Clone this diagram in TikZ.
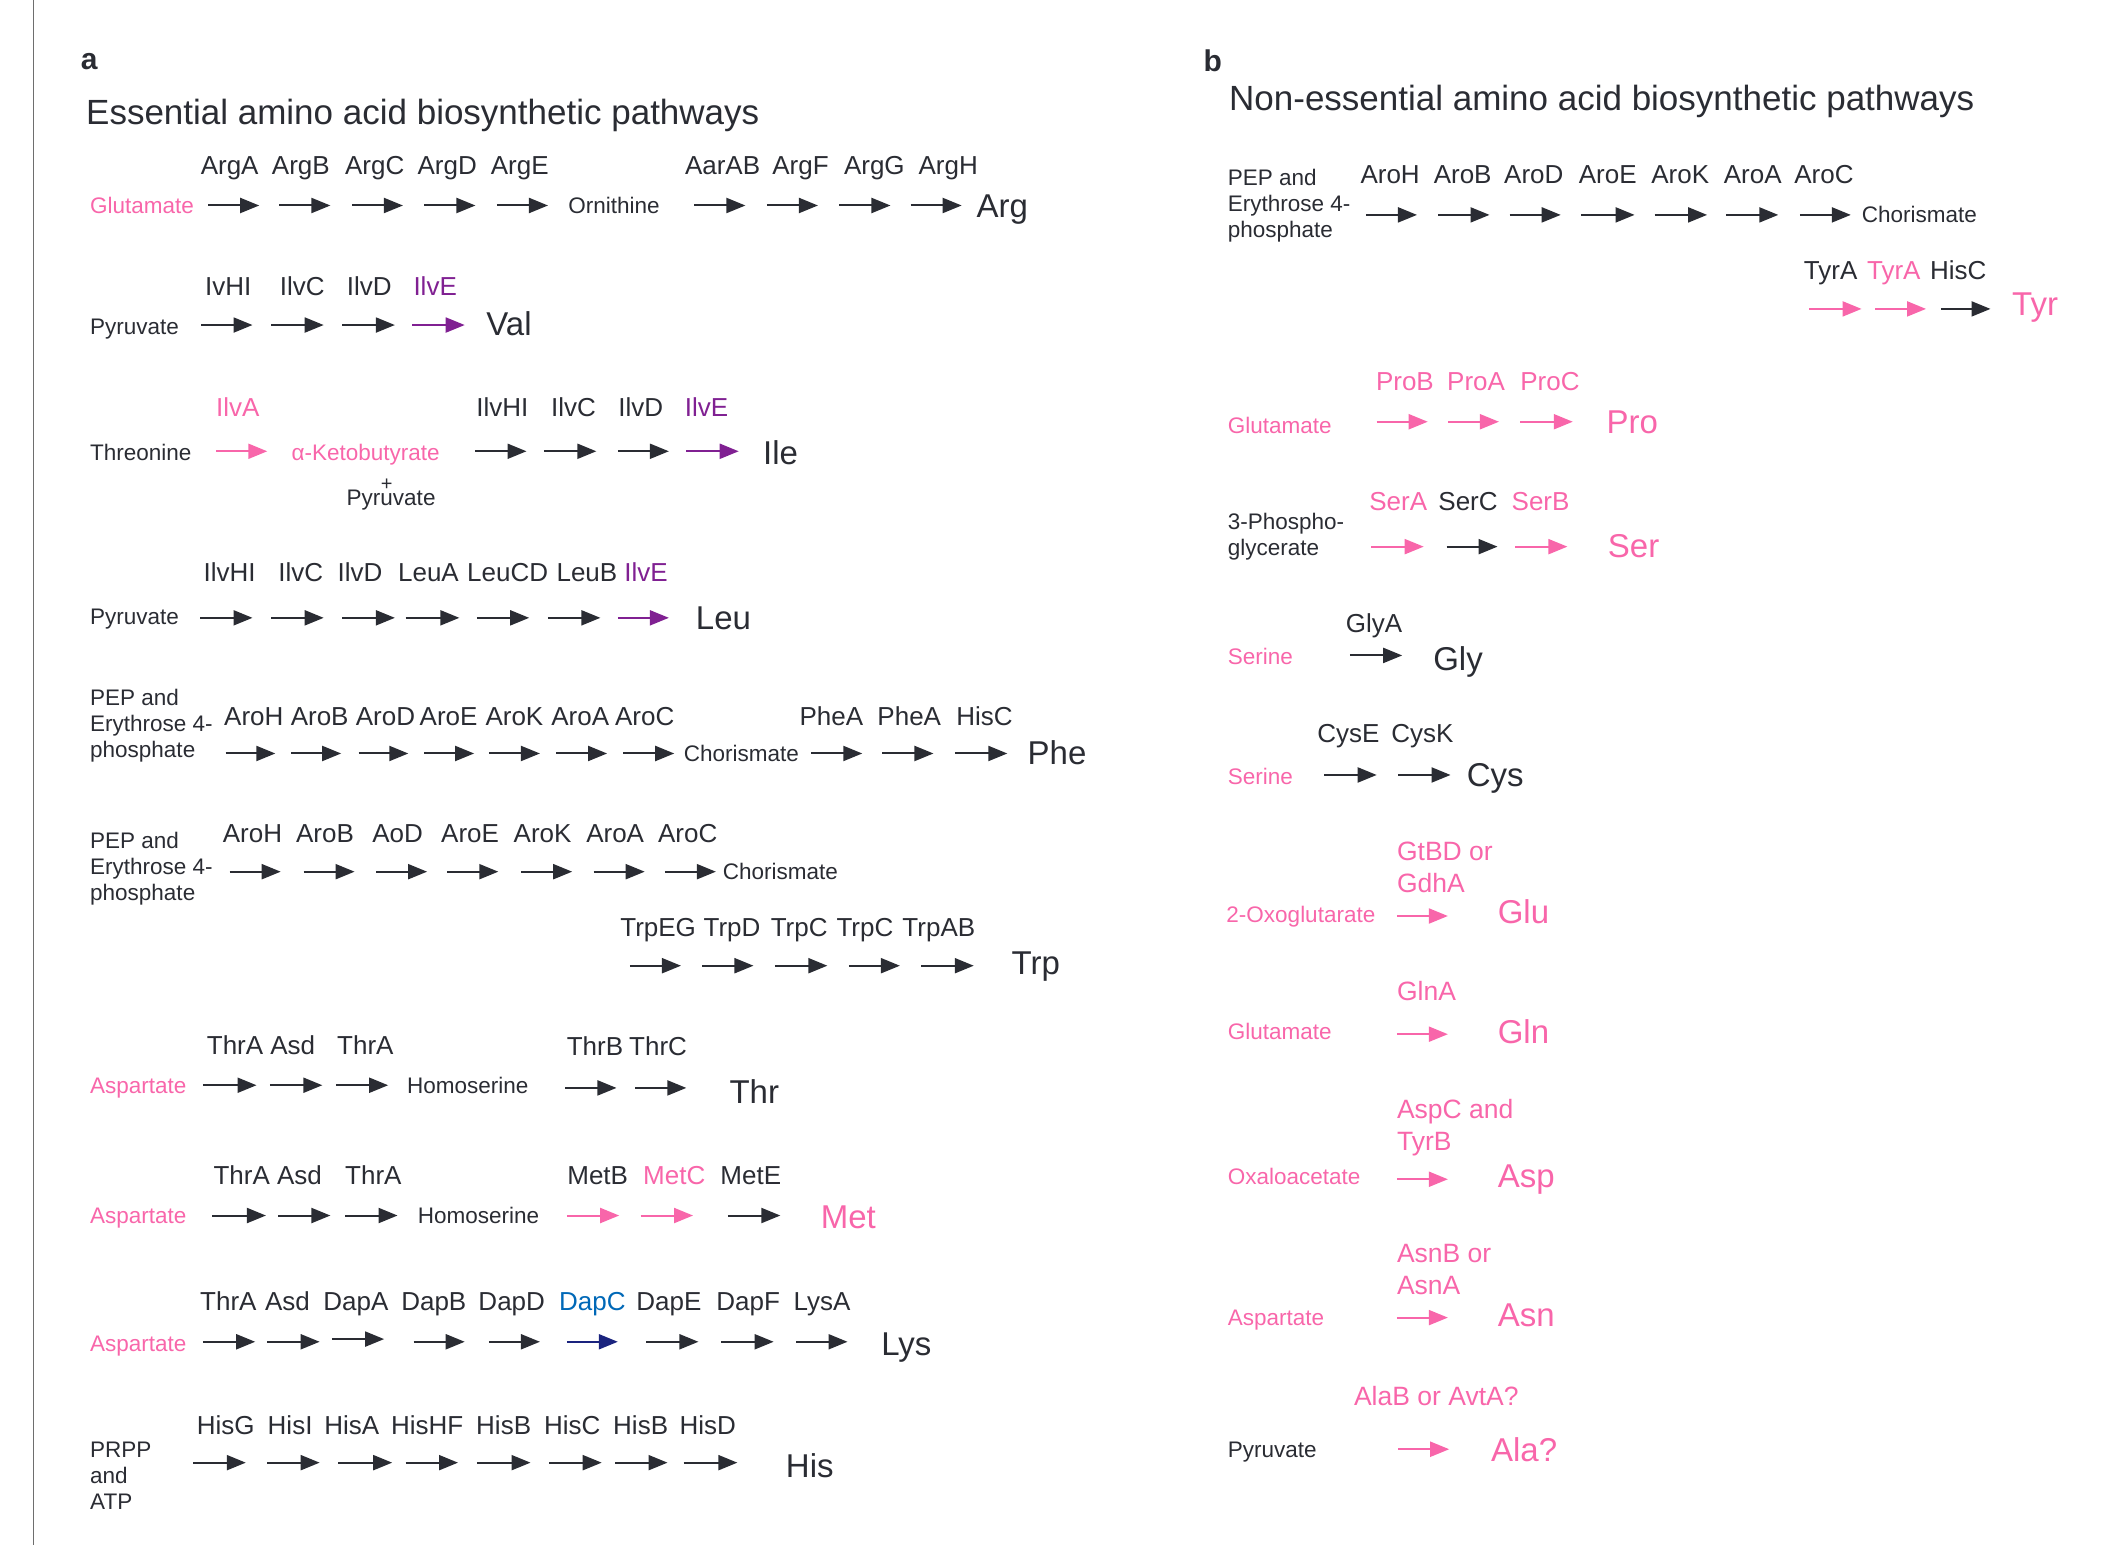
\documentclass[tikz,border=0pt]{standalone}
\usepackage{fontspec}
\setmainfont{Liberation Sans}
\usetikzlibrary{arrows.meta}
\definecolor{dk}{RGB}{42,44,51}
\definecolor{pk}{RGB}{248,102,170}
\definecolor{pu}{RGB}{128,32,146}
\definecolor{bl}{RGB}{0,104,183}
\definecolor{nv}{RGB}{26,35,126}
\definecolor{gr}{RGB}{110,110,110}
\tikzset{
  every node/.style={text=dk},
  txt/.style={inner sep=0pt, text depth=0pt},
  enz/.style={txt, text height=18.7pt, font=\fontsize{26}{30}\selectfont, anchor=center},
  enzb/.style={txt, text height=19.1pt, font=\fontsize{26.5}{32}\selectfont, anchor=west},
  met/.style={txt, text height=16.2pt, font=\fontsize{22.5}{26}\selectfont, anchor=west},
  prod/.style={txt, text height=23.8pt, font=\fontsize{33}{38}\selectfont, anchor=west},
  multi/.style={inner sep=0pt, align=left, anchor=west, font=\fontsize{22.5}{26}\selectfont},
  multienz/.style={inner sep=0pt, align=left, anchor=west, font=\fontsize{26.5}{32}\selectfont},
  ttl/.style={txt, text height=25.2pt, font=\fontsize{35}{40}\selectfont, anchor=west},
  lbl/.style={txt, text height=21.6pt, font=\fontsize{30}{34}\selectfont\bfseries, anchor=west},
  arr/.style={-{Triangle[length=19pt,width=15pt]}, line width=2pt},
}
\begin{document}
\begin{tikzpicture}[x=1.34311pt, y=-1.34311pt]
\useasboundingbox (0,0) rectangle (1568,1150);
\draw[gr, line width=1.5pt] (25,0) coordinate (ltop) -- (25,1150) coordinate (lbot);

% ---------------- panel a ----------------
\node[lbl] (la) at (60,43.8) {a};
\node[ttl] (ta) at (64,83) {Essential amino acid biosynthetic pathways};

% Arg
\foreach \x/\t [count=\i] in {171/ArgA,224/ArgB,279/ArgC,333/ArgD,387/ArgE,538/AarAB,596/ArgF,651/ArgG,706/ArgH}
  \node[enz] (argE\i) at (\x,123) {\t};
\node[met, text=pk] (argS) at (67,153) {Glutamate};
\node[met] (argM) at (423,153) {Ornithine};
\node[prod] (argP) at (727,153) {Arg};
\foreach \a/\b/\c in {155/193/dk,208/246/dk,262/300/dk,316/354/dk,370/408/dk,517/555/dk,571/609/dk,625/663/dk,678/716/dk}
  \draw[arr,draw=\c] (\a,153) -- (\b,153);

% Val
\foreach \x/\t/\c [count=\i] in {170/IvHI/dk,225/IlvC/dk,275/IlvD/dk,324/IlvE/pu}
  \node[enz, text=\c] (valE\i) at (\x,213) {\t};
\node[met] (valS) at (67,243) {Pyruvate};
\node[prod] (valP) at (362,241) {Val};
\foreach \a/\b/\c in {150/188/dk,202/241/dk,255/294/dk,307/346/pu}
  \draw[arr,draw=\c] (\a,242) -- (\b,242);

% Ile
\foreach \x/\t/\c [count=\i] in {177/IlvA/pk,374/IlvHI/dk,427/IlvC/dk,477/IlvD/dk,526/IlvE/pu}
  \node[enz, text=\c] (ileE\i) at (\x,303) {\t};
\node[met] (ileS) at (67,337) {Threonine};
\node[met, text=pk] (ileM) at (217,337) {α-Ketobutyrate};
\node[txt, text height=14pt, font=\fontsize{20}{22}\selectfont] (ilePl) at (288,360) {+};
\node[met] (ileM2) at (258,370) {Pyruvate};
\node[prod] (ileP) at (568,337) {Ile};
\foreach \a/\b/\c in {161/199/pk,354/392/dk,405/444/dk,460/498/dk,511/550/pu}
  \draw[arr,draw=\c] (\a,336) -- (\b,336);

% Leu
\foreach \x/\t/\c [count=\i] in {171/IlvHI/dk,224/IlvC/dk,268/IlvD/dk,319/LeuA/dk,378/LeuCD/dk,437/LeuB/dk,481/IlvE/pu}
  \node[enz, text=\c] (leuE\i) at (\x,426) {\t};
\node[met] (leuS) at (67,459) {Pyruvate};
\node[prod] (leuP) at (518,460) {Leu};
\foreach \a/\b/\c in {149/188/dk,202/241/dk,255/294/dk,302/342/dk,355/394/dk,408/447/dk,460/498/pu}
  \draw[arr,draw=\c] (\a,460) -- (\b,460);

% Phe
\node[multi] (pheS) at (67,540) {PEP and\\Erythrose 4-\\phosphate};
\foreach \x/\t [count=\i] in {189/AroH,238/AroB,287/AroD,334/AroE,383/AroK,432/AroA,480/AroC,619/PheA,677/PheA,733/HisC}
  \node[enz] (pheE\i) at (\x,533) {\t};
\node[met] (pheM) at (509,561) {Chorismate};
\node[prod] (pheP) at (765,560) {Phe};
\foreach \a/\b in {168/205,217/254,267/304,316/353,364/402,414/452,464/502,604/642,657/695,711/750}
  \draw[arr,draw=dk] (\a,561) -- (\b,561);

% Trp
\node[multi] (trpS) at (67,647) {PEP and\\Erythrose 4-\\phosphate};
\foreach \x/\t [count=\i] in {188/AroH,242/AroB,296/AoD,350/AroE,404/AroK,458/AroA,512/AroC}
  \node[enz] (trpE\i) at (\x,620) {\t};
\node[met] (trpM) at (538,649) {Chorismate};
\foreach \a/\b in {171/209,226/264,280/318,333/371,388/426,442/480,495/533}
  \draw[arr,draw=dk] (\a,649) -- (\b,649);
\foreach \x/\t [count=\i] in {490/TrpEG,545/TrpD,595/TrpC,644/TrpC,699/TrpAB}
  \node[enz] (trpF\i) at (\x,690) {\t};
\foreach \a/\b in {469/507,523/561,577/616,632/670,686/725}
  \draw[arr,draw=dk] (\a,719) -- (\b,719);
\node[prod] (trpP) at (753,717) {Trp};

% Thr
\foreach \x/\t [count=\i] in {175/ThrA,218/Asd,272/ThrA}
  \node[enz] (thrE\i) at (\x,778) {\t};
\foreach \x/\t [count=\i] in {443/ThrB,490/ThrC}
  \node[enz] (thrF\i) at (\x,779) {\t};
\node[met, text=pk] (thrS) at (67,808) {Aspartate};
\node[met] (thrM) at (303,808) {Homoserine};
\node[prod] (thrP) at (543,813) {Thr};
\foreach \a/\b in {151/191,201/240,250/289}
  \draw[arr,draw=dk] (\a,808) -- (\b,808);
\foreach \a/\b in {421/459,473/511}
  \draw[arr,draw=dk] (\a,810) -- (\b,810);

% Met
\foreach \x/\t/\c [count=\i] in {180/ThrA/dk,223/Asd/dk,278/ThrA/dk,445/MetB/dk,502/MetC/pk,559/MetE/dk}
  \node[enz, text=\c] (metE\i) at (\x,875) {\t};
\node[met, text=pk] (metS) at (67,905) {Aspartate};
\node[met] (metM) at (311,905) {Homoserine};
\node[prod, text=pk] (metP) at (611,906) {Met};
\foreach \a/\b/\c in {158/198/dk,207/246/dk,257/296/dk,422/461/pk,477/516/pk,542/581/dk}
  \draw[arr,draw=\c] (\a,905) -- (\b,905);

% Lys
\foreach \x/\t/\c [count=\i] in {170/ThrA/dk,214/Asd/dk,265/DapA/dk,323/DapB/dk,381/DapD/dk,441/DapC/bl,498/DapE/dk,557/DapF/dk,612/LysA/dk}
  \node[enz, text=\c] (lysE\i) at (\x,969) {\t};
\node[met, text=pk] (lysS) at (67,1000) {Aspartate};
\node[prod] (lysP) at (656,1000) {Lys};
\foreach \a/\b/\c in {151/190/dk,199/238/dk,308/346/dk,364/402/dk,422/460/nv,481/520/dk,537/576/dk,593/631/dk}
  \draw[arr,draw=\c] (\a,999) -- (\b,999);
\draw[arr,draw=dk] (247,997) -- (286,997);

% His
\foreach \x/\t [count=\i] in {168/HisG,216/HisI,262/HisA,318/HisHF,375/HisB,426/HisC,477/HisB,527/HisD}
  \node[enz] (hisE\i) at (\x,1061) {\t};
\node[multi] (hisS) at (67,1099) {PRPP\\and\\ATP};
\node[prod] (hisP) at (585,1091) {His};
\foreach \a/\b in {144/183,199/238,252/292,302/341,355/395,409/448,458/497,509/549}
  \draw[arr,draw=dk] (\a,1089) -- (\b,1089);

% ---------------- panel b ----------------
\node[lbl] (lb) at (896,45) {b};
\node[ttl] (tb) at (915,73) {Non-essential amino acid biosynthetic pathways};

% Chorismate / Tyr
\node[multi] (tyrS) at (914,153.5) {PEP and\\Erythrose 4-\\phosphate};
\foreach \x/\t [count=\i] in {1035/AroH,1089/AroB,1142/AroD,1197/AroE,1251/AroK,1305/AroA,1358/AroC}
  \node[enz] (tyrE\i) at (\x,130) {\t};
\foreach \a/\b in {1017/1055,1071/1109,1124/1162,1177/1217,1232/1271,1285/1324,1340/1378}
  \draw[arr,draw=dk] (\a,160) -- (\b,160);
\node[met] (tyrM) at (1386,160) {Chorismate};
\foreach \x/\t/\c [count=\i] in {1363/TyrA/dk,1410/TyrA/pk,1458/HisC/dk}
  \node[enz, text=\c] (tyrF\i) at (\x,201) {\t};
\foreach \a/\b/\c in {1347/1386/pk,1396/1434/pk,1445/1482/dk}
  \draw[arr,draw=\c] (\a,230) -- (\b,230);
\node[prod, text=pk] (tyrP) at (1498,226) {Tyr};

% Pro
\foreach \x/\t [count=\i] in {1046/ProB,1099/ProA,1154/ProC}
  \node[enz, text=pk] (proE\i) at (\x,284) {\t};
\node[met, text=pk] (proS) at (914,317) {Glutamate};
\foreach \a/\b in {1025/1063,1078/1116,1132/1171}
  \draw[arr,draw=pk] (\a,314) -- (\b,314);
\node[prod, text=pk] (proP) at (1196,314) {Pro};

% Ser
\foreach \x/\t/\c [count=\i] in {1041/SerA/pk,1093/SerC/dk,1147/SerB/pk}
  \node[enz, text=\c] (serE\i) at (\x,373) {\t};
\node[multi] (serS) at (914,399.7) {3-Phospho-\\glycerate};
\foreach \a/\b/\c in {1021/1060/pk,1077/1115/dk,1128/1167/pk}
  \draw[arr,draw=\c] (\a,407) -- (\b,407);
\node[prod, text=pk] (serP) at (1197,406) {Ser};

% Gly
\node[enz] (glyE) at (1023,464) {GlyA};
\node[met, text=pk] (glyS) at (914,489) {Serine};
\draw[arr,draw=dk] (1005,488) -- (1044,488);
\node[prod] (glyP) at (1067,490) {Gly};

% Cys
\node[enz] (cysE1) at (1004,546) {CysE};
\node[enz] (cysE2) at (1059,546) {CysK};
\node[met, text=pk] (cysS) at (914,578) {Serine};
\foreach \a/\b in {986/1025,1041/1080}
  \draw[arr,draw=dk] (\a,577) -- (\b,577);
\node[prod] (cysP) at (1092,577) {Cys};

% Glu
\node[multienz, text=pk] (gluE) at (1040,646) {GtBD or\\GdhA};
\node[met, text=pk] (gluS) at (913,681) {2-Oxoglutarate};
\draw[arr,draw=pk] (1040,682) -- (1078,682);
\node[prod, text=pk] (gluP) at (1115,679) {Glu};

% Gln
\node[enzb, text=pk] (glnE) at (1040,738) {GlnA};
\node[met, text=pk] (glnS) at (914,768) {Glutamate};
\draw[arr,draw=pk] (1040,770) -- (1078,770);
\node[prod, text=pk] (glnP) at (1115,768) {Gln};

% Asp
\node[multienz, text=pk] (aspE) at (1040,839.5) {AspC and\\TyrB};
\node[met, text=pk] (aspS) at (914,876) {Oxaloacetate};
\draw[arr,draw=pk] (1040,878) -- (1078,878);
\node[prod, text=pk] (aspP) at (1115,875) {Asp};

% Asn
\node[multienz, text=pk] (asnE) at (1040,945) {AsnB or\\AsnA};
\node[met, text=pk] (asnS) at (914,981) {Aspartate};
\draw[arr,draw=pk] (1040,981) -- (1078,981);
\node[prod, text=pk] (asnP) at (1115,979) {Asn};

% Ala
\node[enzb, text=pk] (alaE) at (1008,1039) {AlaB or AvtA?};
\node[met] (alaS) at (914,1079) {Pyruvate};
\draw[arr,draw=pk] (1041,1079) -- (1079,1079);
\node[prod, text=pk] (alaP) at (1110,1079) {Ala?};
\end{tikzpicture}
\end{document}
